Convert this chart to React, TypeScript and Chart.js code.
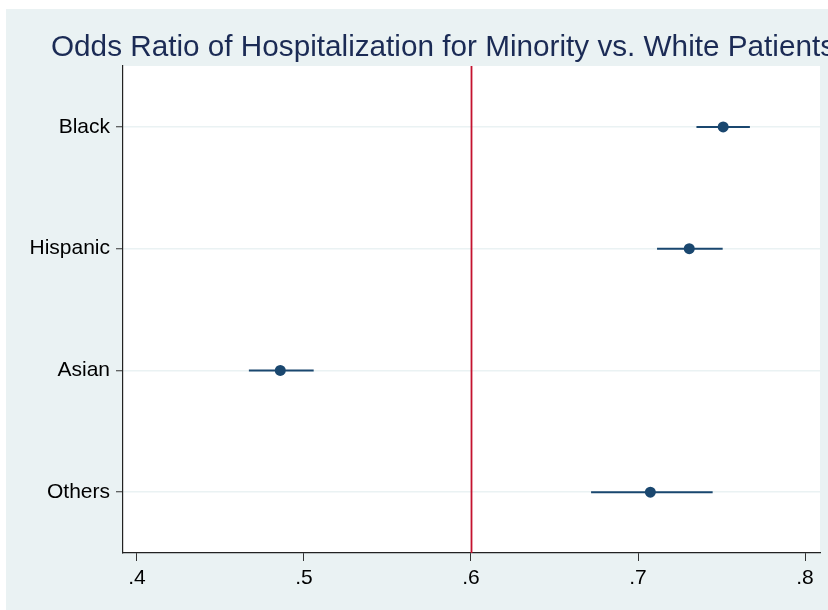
import React, { useEffect, useRef } from "react";
import { Chart, registerables } from "chart.js";

Chart.register(...registerables);

const categories = ["Black", "Hispanic", "Asian", "Others"];
const oddsRatios = [0.751, 0.7307, 0.4858, 0.7074];
const ciLower = [0.735, 0.7114, 0.467, 0.6719];
const ciUpper = [0.767, 0.7507, 0.5058, 0.7447];
const xTickValues = [0.4, 0.5, 0.6, 0.7, 0.8];
const xTickLabels = [".4", ".5", ".6", ".7", ".8"];
const referenceValue = 0.6;
const titleText = "Odds Ratio of Hospitalization for Minority vs. White Patients";

const NAVY = "#1a476f";
const BG = "#eaf2f3";
const FONT = "'Liberation Sans', Arial, Helvetica, sans-serif";

export default function App() {
  const ref = useRef<HTMLCanvasElement | null>(null);

  useEffect(() => {
    if (!ref.current) return;

    const plotBg = {
      id: "plotBg",
      beforeDraw(chart: any) {
        const { ctx, chartArea } = chart;
        ctx.save();
        ctx.fillStyle = "#ffffff";
        ctx.fillRect(chartArea.left, chartArea.top, chartArea.right - chartArea.left, chartArea.bottom - chartArea.top);
        ctx.restore();
      },
    };

    const refLine = {
      id: "refLine",
      afterDatasetsDraw(chart: any) {
        const { ctx, chartArea, scales } = chart;
        const x = Math.round(scales.x.getPixelForValue(referenceValue)) + 0.5;
        ctx.save();
        ctx.strokeStyle = "#c4122f";
        ctx.lineWidth = 1.8;
        ctx.beginPath();
        ctx.moveTo(x, chartArea.top);
        ctx.lineTo(x, chartArea.bottom);
        ctx.stroke();
        ctx.restore();
      },
    };

    const titlePlugin = {
      id: "customTitle",
      afterDraw(chart: any) {
        const { ctx } = chart;
        ctx.save();
        ctx.fillStyle = "#1b2b55";
        ctx.font = `30px ${FONT}`;
        ctx.textBaseline = "alphabetic";
        ctx.textAlign = "left";
        ctx.translate(45, 47);
        ctx.scale(0.99, 1);
        ctx.fillText(titleText, 0, 0);
        ctx.restore();
      },
    };

    const ciDatasets = categories.map((c, i) => ({
      type: "line" as const,
      label: "ci-" + c,
      data: [
        { x: ciLower[i], y: c },
        { x: ciUpper[i], y: c },
      ],
      borderColor: NAVY,
      borderWidth: 2,
      pointRadius: 0,
      showLine: true,
      order: 2,
    }));

    const chart = new Chart(ref.current, {
      type: "scatter",
      data: {
        labels: categories,
        datasets: [
          ...ciDatasets,
          {
            type: "scatter" as const,
            label: "Odds ratio",
            data: categories.map((c, i) => ({ x: oddsRatios[i], y: c })),
            backgroundColor: NAVY,
            borderColor: NAVY,
            pointRadius: 5.5,
            pointBorderWidth: 0,
            order: 1,
          },
        ] as any,
      },
      options: {
        responsive: false,
        animation: false,
        layout: { padding: { top: 57, right: 8, left: 0, bottom: 0 } },
        plugins: {
          legend: { display: false },
          title: { display: false },
          tooltip: { enabled: false },
        },
        scales: {
          x: {
            type: "linear",
            min: 0.39162,
            max: 0.80898,
            afterBuildTicks: (scale: any) => {
              scale.ticks = xTickValues.map((v) => ({ value: v }));
            },
            afterFit: (scale: any) => {
              scale.height = 57;
            },
            ticks: {
              autoSkip: false,
              maxRotation: 0,
              padding: 5,
              color: "#000",
              font: { family: FONT, size: 21 },
              callback: (v: any) => {
                const idx = xTickValues.findIndex((t) => Math.abs(t - Number(v)) < 1e-9);
                return idx >= 0 ? xTickLabels[idx] : "";
              },
            },
            grid: {
              drawOnChartArea: false,
              tickColor: "#333",
              tickLength: 8,
              tickWidth: 1,
            },
            border: { color: "#222", width: 1.2 },
          },
          y: {
            type: "category",
            labels: categories,
            offset: true,
            afterFit: (scale: any) => {
              scale.width = 117;
            },
            ticks: {
              autoSkip: false,
              padding: 6,
              color: "#000",
              font: { family: FONT, size: 21 },
            },
            grid: {
              offset: false,
              color: BG,
              lineWidth: 1.5,
              tickColor: "#333",
              tickLength: 7,
              tickWidth: 1,
            },
            border: { color: "#222", width: 1.2 },
          },
        },
      } as any,
      plugins: [plotBg, refLine, titlePlugin],
    });

    return () => chart.destroy();
  }, []);

  return (
    <div style={{ position: "absolute", left: 0, top: 0, width: 828, height: 610, background: "#fff" }}>
      <div style={{ position: "absolute", left: 6, top: 9, width: 822, height: 601, background: BG }}>
        <canvas ref={ref} width={822} height={601} style={{ display: "block" }} />
      </div>
    </div>
  );
}
